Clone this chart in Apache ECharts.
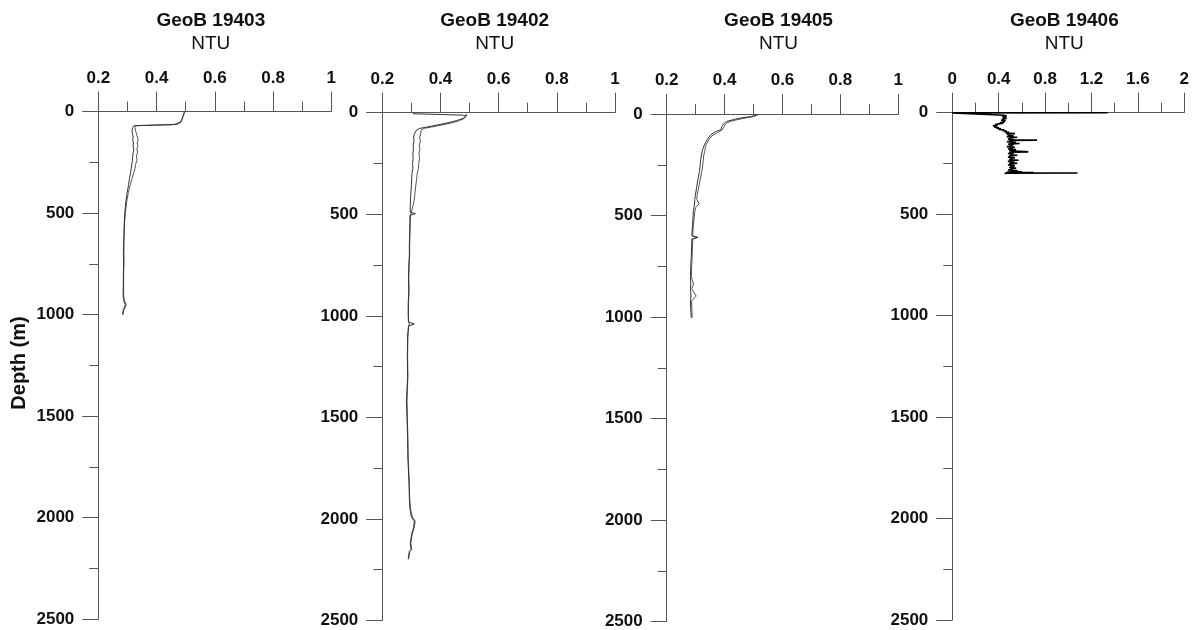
<!DOCTYPE html>
<html>
<head>
<meta charset="utf-8">
<script src="https://cdn.jsdelivr.net/npm/echarts@6/dist/echarts.min.js"></script>
<style>
  html, body { margin: 0; padding: 0; background: #ffffff; }
  #chart { width: 1196px; height: 630px; }
</style>
</head>
<body>
<div id="chart"></div>
<script>
// Turbidity (NTU) profiles against depth for four CTD stations.
const stationNames = ['GeoB 19403', 'GeoB 19402', 'GeoB 19405', 'GeoB 19406'];
const unitLabel = 'NTU';
const depthLabel = 'Depth (m)';
const depthTicks = [0, 500, 1000, 1500, 2000, 2500];

// GeoB 19403 — down and up casts
const depth19403 = [0, 10, 25, 40, 52, 60, 64, 67, 70, 80, 95, 110, 125, 140, 155, 170, 185, 200, 220, 240,
  260, 280, 300, 330, 360, 400, 450, 500, 550, 600, 650, 700, 750, 800, 850, 900, 920, 935, 950, 965, 980, 1000];
const ntu19403Down = [0.495, 0.494, 0.490, 0.486, 0.482, 0.478, 0.460, 0.380, 0.322, 0.318, 0.316, 0.317, 0.320, 0.318, 0.321, 0.319, 0.322, 0.320, 0.318, 0.317,
  0.315, 0.313, 0.311, 0.307, 0.304, 0.299, 0.294, 0.291, 0.289, 0.288, 0.287, 0.286, 0.287, 0.286, 0.286, 0.285, 0.286, 0.288, 0.293, 0.289, 0.285, 0.284];
const ntu19403Up = [0.497, 0.495, 0.491, 0.488, 0.484, 0.481, 0.470, 0.420, 0.330, 0.326, 0.328, 0.331, 0.334, 0.337, 0.333, 0.336, 0.332, 0.335, 0.331, 0.333,
  0.328, 0.326, 0.322, 0.316, 0.310, 0.303, 0.297, 0.293, 0.290, 0.289, 0.288, 0.288, 0.288, 0.287, 0.287, 0.287, 0.288, 0.291, 0.296, 0.292, 0.287, 0.285];

// GeoB 19402 — down and up casts
const depth19402 = [5, 10, 12, 15, 20, 28, 39, 48, 56, 66, 77, 85, 94, 105, 120, 140, 160, 180, 200, 225,
  250, 275, 300, 330, 360, 400, 430, 460, 490, 497, 505, 540, 600, 650, 700, 760, 820, 880, 940, 1000,
  1030, 1040, 1050, 1100, 1200, 1300, 1420, 1500, 1600, 1700, 1830, 1900, 1950, 1990, 2010, 2040, 2075, 2120, 2150, 2160, 2198];
const ntu19402Down = [0.305, 0.308, 0.475, 0.488, 0.486, 0.478, 0.455, 0.430, 0.405, 0.370, 0.330, 0.318, 0.312, 0.310, 0.308, 0.309, 0.306, 0.307, 0.305, 0.306,
  0.304, 0.305, 0.302, 0.301, 0.300, 0.298, 0.297, 0.296, 0.296, 0.314, 0.295, 0.295, 0.294, 0.293, 0.293, 0.291, 0.290, 0.291, 0.289, 0.289,
  0.290, 0.310, 0.290, 0.287, 0.286, 0.287, 0.283, 0.285, 0.287, 0.288, 0.292, 0.293, 0.295, 0.300, 0.310, 0.308, 0.301, 0.296, 0.299, 0.293, 0.289];
const ntu19402Up = [0.488, 0.490, 0.492, 0.490, 0.488, 0.482, 0.465, 0.445, 0.420, 0.385, 0.345, 0.334, 0.330, 0.332, 0.328, 0.331, 0.327, 0.329, 0.326, 0.328,
  0.325, 0.324, 0.320, 0.318, 0.315, 0.312, 0.310, 0.305, 0.300, 0.299, 0.297, 0.296, 0.295, 0.294, 0.294, 0.292, 0.291, 0.292, 0.290, 0.290,
  0.291, 0.293, 0.291, 0.288, 0.287, 0.288, 0.285, 0.286, 0.288, 0.289, 0.293, 0.294, 0.297, 0.303, 0.313, 0.310, 0.303, 0.298, 0.301, 0.295, 0.290];

// GeoB 19405 — down and up casts
const depth19405 = [2, 8, 12, 17, 25, 36, 45, 53, 62, 70, 77, 85, 94, 102, 110, 125, 140, 151, 160, 168,
  185, 201, 230, 260, 283, 320, 365, 400, 409, 420, 442, 460, 480, 508, 550, 590, 600, 607, 615, 650,
  700, 756, 800, 838, 860, 896, 920, 960, 1003];
const ntu19405Down = [0.515, 0.510, 0.490, 0.463, 0.435, 0.406, 0.398, 0.395, 0.390, 0.389, 0.387, 0.370, 0.360, 0.352, 0.349, 0.340, 0.334, 0.330, 0.327, 0.326,
  0.322, 0.320, 0.317, 0.315, 0.313, 0.308, 0.303, 0.299, 0.298, 0.297, 0.296, 0.294, 0.292, 0.291, 0.289, 0.287, 0.287, 0.308, 0.287, 0.286,
  0.285, 0.283, 0.282, 0.283, 0.282, 0.284, 0.282, 0.283, 0.285];
const ntu19405Up = [0.516, 0.512, 0.500, 0.478, 0.450, 0.418, 0.405, 0.400, 0.398, 0.396, 0.392, 0.382, 0.372, 0.360, 0.354, 0.345, 0.340, 0.336, 0.334, 0.333,
  0.331, 0.328, 0.326, 0.324, 0.321, 0.316, 0.310, 0.305, 0.309, 0.304, 0.312, 0.300, 0.297, 0.295, 0.292, 0.290, 0.291, 0.306, 0.290, 0.289,
  0.288, 0.286, 0.285, 0.293, 0.286, 0.302, 0.286, 0.287, 0.288];

// GeoB 19406 — shallow station, noisy trace with spikes
const depth19406 = [0, 0, 1, 10, 11, 13, 16, 19, 22, 25, 28, 31, 34, 37, 40, 43, 46, 49, 52, 55,
  58, 61, 64, 67, 70, 73, 76, 79, 82, 85, 88, 91, 94, 97, 100, 103, 106, 109, 112, 115,
  118, 121, 124, 127, 130, 133, 135, 137, 140, 143, 146, 149, 152, 155, 158, 161, 164, 167, 170, 173,
  176, 179, 182, 185, 188, 191, 193, 195, 198, 201, 204, 207, 210, 213, 216, 219, 222, 225, 228, 231,
  234, 237, 240, 243, 246, 249, 252, 255, 258, 261, 264, 267, 270, 273, 276, 279, 282, 285, 288, 291,
  293, 295, 296, 297, 298, 300];
const ntu19406 = [0.42, 1.34, 0.00, 0.00, 0.40, 0.44, 0.47, 0.43, 0.46, 0.44, 0.47, 0.43, 0.45, 0.42, 0.46, 0.43, 0.45, 0.41, 0.44, 0.40,
  0.37, 0.39, 0.35, 0.38, 0.36, 0.40, 0.38, 0.42, 0.40, 0.45, 0.43, 0.47, 0.45, 0.49, 0.46, 0.54, 0.47, 0.50, 0.48, 0.53,
  0.47, 0.56, 0.49, 0.51, 0.48, 0.53, 0.73, 0.49, 0.52, 0.47, 0.55, 0.50, 0.58, 0.48, 0.53, 0.49, 0.51, 0.47, 0.54, 0.50,
  0.52, 0.48, 0.55, 0.49, 0.51, 0.50, 0.655, 0.49, 0.53, 0.48, 0.52, 0.50, 0.56, 0.49, 0.51, 0.48, 0.54, 0.50, 0.52, 0.49,
  0.57, 0.50, 0.48, 0.53, 0.50, 0.56, 0.49, 0.52, 0.48, 0.54, 0.50, 0.53, 0.49, 0.55, 0.50, 0.52, 0.48, 0.56, 0.50, 0.60,
  0.47, 0.70, 0.46, 1.08, 0.47, 0.45];

// Panel layout (pixels) and axis ranges
const panels = [
  { left: 98.3,  width: 233.0, top: 111.5, bottom: 619.3, xMin: 0.2, xMax: 1, xStep: 0.2,
    casts: [[depth19403, ntu19403Down], [depth19403, ntu19403Up]], color: ['#333333', '#555555'], lw: 1 },
  { left: 382.3, width: 232.7, top: 112.7, bottom: 620.5, xMin: 0.2, xMax: 1, xStep: 0.2,
    casts: [[depth19402, ntu19402Down], [depth19402, ntu19402Up]], color: ['#333333', '#555555'], lw: 1 },
  { left: 666.7, width: 231.6, top: 114.2, bottom: 621.7, xMin: 0.2, xMax: 1, xStep: 0.2,
    casts: [[depth19405, ntu19405Down], [depth19405, ntu19405Up]], color: ['#333333', '#555555'], lw: 1 },
  { left: 952.3, width: 232.0, top: 112.7, bottom: 620.0, xMin: 0, xMax: 2, xStep: 0.4,
    casts: [[depth19406, ntu19406]], color: ['#000000'], lw: 1.6 }
];

const FONT = 'Liberation Sans, Arial, Helvetica, sans-serif';
const AXIS_COLOR = '#555555';
const LABEL_COLOR = '#111111';

const grid = [], xAxis = [], yAxis = [], series = [], graphic = [];

panels.forEach((p, i) => {
  grid.push({ left: p.left, top: p.top, width: p.width, height: p.bottom - p.top, containLabel: false });

  xAxis.push({
    gridIndex: i, type: 'value', position: 'top',
    min: p.xMin, max: p.xMax, interval: p.xStep,
    axisLine: { show: true, onZero: false, lineStyle: { color: AXIS_COLOR, width: 1 } },
    axisTick: { show: true, length: 20, lineStyle: { color: AXIS_COLOR, width: 1 } },
    minorTick: { show: true, splitNumber: 2, length: 10, lineStyle: { color: AXIS_COLOR, width: 1 } },
    splitLine: { show: false },
    axisLabel: {
      margin: 25, fontSize: 17, fontWeight: 'bold', color: LABEL_COLOR, fontFamily: FONT,
      formatter: v => String(+v.toFixed(1))
    }
  });

  yAxis.push({
    gridIndex: i, type: 'value', inverse: true,
    min: depthTicks[0], max: depthTicks[depthTicks.length - 1], interval: depthTicks[1] - depthTicks[0],
    axisLine: { show: true, onZero: false, lineStyle: { color: AXIS_COLOR, width: 1 } },
    axisTick: { show: true, length: 16, lineStyle: { color: AXIS_COLOR, width: 1 } },
    minorTick: { show: true, splitNumber: 2, length: 9, lineStyle: { color: AXIS_COLOR, width: 1 } },
    splitLine: { show: false },
    axisLabel: {
      margin: 24, fontSize: 17, fontWeight: 'bold', color: LABEL_COLOR, fontFamily: FONT,
      formatter: v => String(Math.round(v))
    }
  });

  p.casts.forEach((c, k) => {
    const depths = c[0], vals = c[1];
    series.push({
      type: 'line', xAxisIndex: i, yAxisIndex: i,
      data: depths.map((d, j) => [vals[j], d]),
      symbol: 'none', showSymbol: false, smooth: false,
      lineStyle: { color: p.color[k], width: p.lw },
      z: 3 - k
    });
  });

  const cx = p.left + p.width / 2 - 4;
  graphic.push({
    type: 'text', x: cx, y: 21,
    style: { text: stationNames[i], fill: LABEL_COLOR, font: 'bold 19px ' + FONT, textAlign: 'center', textVerticalAlign: 'middle' }
  });
  graphic.push({
    type: 'text', x: cx, y: 44,
    style: { text: unitLabel, fill: LABEL_COLOR, font: '19px ' + FONT, textAlign: 'center', textVerticalAlign: 'middle' }
  });
});

graphic.push({
  type: 'text', x: 19, y: 363, rotation: Math.PI / 2,
  style: { text: depthLabel, fill: LABEL_COLOR, font: 'bold 20px ' + FONT, textAlign: 'center', textVerticalAlign: 'middle' }
});

const chart = echarts.init(document.getElementById('chart'), null, { renderer: 'canvas' });
chart.setOption({
  animation: false,
  backgroundColor: '#ffffff',
  grid, xAxis, yAxis, series, graphic
});
</script>
</body>
</html>
